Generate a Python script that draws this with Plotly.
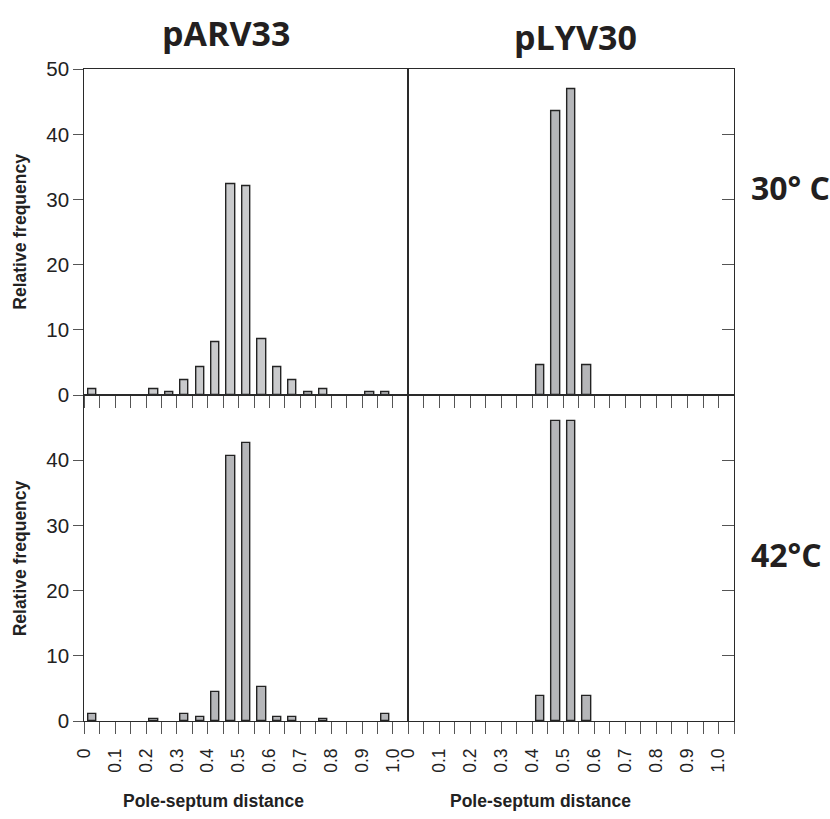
import plotly.graph_objects as go

# ---------------- data ----------------
bin_centers = [0.025, 0.075, 0.125, 0.175, 0.225, 0.275, 0.325, 0.375, 0.425, 0.475,
               0.525, 0.575, 0.625, 0.675, 0.725, 0.775, 0.825, 0.875, 0.925, 0.975]
parv33_30 = [0.9, 0, 0, 0, 0.9, 0.4, 2.35, 4.25, 8.1, 32.4,
             32.1, 8.6, 4.25, 2.35, 0.4, 0.9, 0, 0, 0.4, 0.4]
plyv30_30 = [0, 0, 0, 0, 0, 0, 0, 0, 4.6, 43.6,
             47.0, 4.6, 0, 0, 0, 0, 0, 0, 0, 0]
parv33_42 = [1.1, 0, 0, 0, 0.4, 0, 1.1, 0.7, 4.4, 40.6,
             42.6, 5.2, 0.7, 0.7, 0, 0.4, 0, 0, 0, 1.1]
plyv30_42 = [0, 0, 0, 0, 0, 0, 0, 0, 3.85, 46.0,
             46.0, 3.85, 0, 0, 0, 0, 0, 0, 0, 0]

x_tick_vals = [round(i * 0.05, 2) for i in range(22)]
x_tick_text = ["0", "", "0.1", "", "0.2", "", "0.3", "", "0.4", "", "0.5", "",
               "0.6", "", "0.7", "", "0.8", "", "0.9", "", "1.0", ""]
y_tick_vals_top = [0, 10, 20, 30, 40, 50]
y_tick_vals_bottom = [0, 10, 20, 30, 40]
col_titles = ["pARV33", "pLYV30"]
row_titles = ["30° C", "42°C"]
x_title = "Pole-septum distance"
y_title = "Relative frequency"

# ---------------- layout geometry ----------------
W, H = 830, 819
SX, OX = 0.992, 8.0     # correction between page pixels and the photographed picture
SY, OY = 0.973, 11.0

def X(x):               # target picture x -> page x
    return (x - OX) / SX
def Y(y):               # target picture y -> page y
    return (y - OY) / SY
def px(x):
    return X(x) / W
def py(y):
    return 1 - Y(y) / H

xl = [px(82.7), px(408.0)]
xr = [px(408.0), px(735.0)]
yt = [py(394.5), py(68.3)]
yb = [py(721.0), py(394.5)]

fig = go.Figure()

panels = [
    ("x", "y", parv33_30, "#c9cacc"),
    ("x2", "y2", plyv30_30, "#b5b6b9"),
    ("x3", "y3", parv33_42, "#b5b6b9"),
    ("x4", "y4", plyv30_42, "#b5b6b9"),
]
for xa, ya, vals, col in panels:
    fig.add_trace(go.Bar(
        x=bin_centers, y=[v if v > 0 else None for v in vals],
        xaxis=xa, yaxis=ya, width=0.027,
        marker=dict(color=col, line=dict(color="#232323", width=1.4)),
        showlegend=False, hoverinfo="x+y",
    ))

line_col = "#2a2a2a"
tick_col = "#555555"
axis_common = dict(showline=True, linecolor=line_col, linewidth=1.4, mirror=True,
                   showgrid=False, zeroline=False)

def xaxis(domain, anchor, labels):
    d = dict(axis_common, domain=domain, anchor=anchor, range=[0, 1.05],
             tickmode="array", tickvals=x_tick_vals, ticks="outside", ticklen=12,
             tickcolor=tick_col, tickwidth=1.2)
    if labels:
        d.update(ticktext=x_tick_text, tickangle=-90, ticklabelstandoff=7,
                 tickfont=dict(family="Liberation Sans, Arial", size=17.5, color="#222"))
    else:
        d.update(showticklabels=False)
    return d

def yaxis_left(domain, anchor, vals):
    return dict(axis_common, domain=domain, anchor=anchor, range=[0, 50],
                tickmode="array", tickvals=vals, ticks="outside", ticklen=10,
                tickcolor=tick_col, tickwidth=1.2,
                tickfont=dict(family="Liberation Sans, Arial", size=20.5, color="#222"))

def yaxis_right(domain, anchor):
    return dict(axis_common, domain=domain, anchor=anchor, range=[0, 50], side="right",
                tickmode="array", tickvals=[10, 20, 30, 40], ticks="inside", ticklen=12,
                tickcolor=tick_col, tickwidth=1.2, showticklabels=False)

fig.update_layout(
    width=W, height=H, margin=dict(l=0, r=0, t=0, b=0),
    paper_bgcolor="white", plot_bgcolor="white",
    xaxis=xaxis(xl, "y", False),
    yaxis=yaxis_left(yt, "x", y_tick_vals_top),
    xaxis2=xaxis(xr, "y2", False),
    yaxis2=yaxis_right(yt, "x2"),
    xaxis3=xaxis(xl, "y3", True),
    yaxis3=yaxis_left(yb, "x3", y_tick_vals_bottom),
    xaxis4=xaxis(xr, "y4", True),
    yaxis4=yaxis_right(yb, "x4"),
    bargap=0,
)

title_font = dict(family="Open Sans", size=34, color="#231f20")
row_font = dict(family="Open Sans", size=32, color="#231f20")
ann = []
ann.append(dict(text="<b>%s</b>" % col_titles[0], x=px(225), y=py(32), xref="paper", yref="paper",
                showarrow=False, font=title_font, xanchor="center", yanchor="middle"))
ann.append(dict(text="<b>%s</b>" % col_titles[1], x=px(576), y=py(36), xref="paper", yref="paper",
                showarrow=False, font=title_font, xanchor="center", yanchor="middle"))
ann.append(dict(text="<b>%s</b>" % row_titles[0], x=px(750), y=py(187), xref="paper", yref="paper",
                showarrow=False, font=row_font, xanchor="left", yanchor="middle"))
ann.append(dict(text="<b>%s</b>" % row_titles[1], x=px(750), y=py(554), xref="paper", yref="paper",
                showarrow=False, font=row_font, xanchor="left", yanchor="middle"))
lab_font = dict(family="Liberation Sans, Arial", size=17.5, color="#222")
for yc in (231, 558):
    ann.append(dict(text="<b>%s</b>" % y_title, x=px(18), y=py(yc), xref="paper", yref="paper",
                    showarrow=False, font=lab_font, textangle=-90,
                    xanchor="center", yanchor="middle"))
for xc in (212, 541):
    ann.append(dict(text="<b>%s</b>" % x_title, x=px(xc), y=py(801), xref="paper", yref="paper",
                    showarrow=False, font=lab_font, xanchor="center", yanchor="middle"))
fig.update_layout(annotations=ann)

# remove the default page margin so the figure sits exactly in the 830x819 window
fig.write_html("out.html", config={"displayModeBar": False},
               post_script="document.body.style.margin='0';document.body.style.overflow='hidden';")
